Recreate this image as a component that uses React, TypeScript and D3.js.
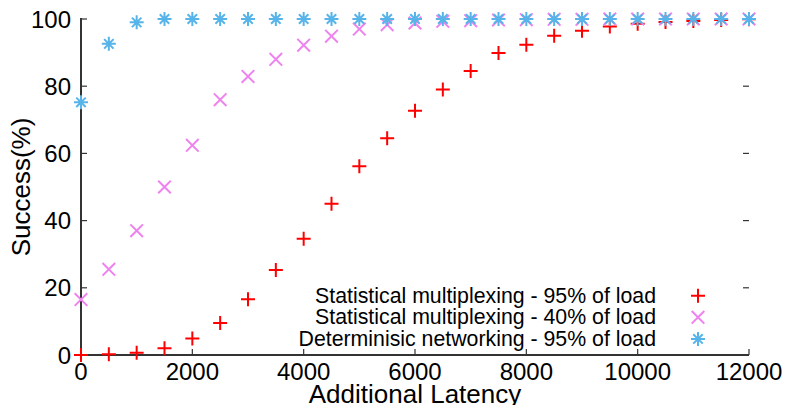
import React from "react";
import * as d3 from "d3";

const latency = [0, 500, 1000, 1500, 2000, 2500, 3000, 3500, 4000, 4500, 5000, 5500, 6000, 6500, 7000, 7500, 8000, 8500, 9000, 9500, 10000, 10500, 11000, 11500, 12000];
const stat95 = [0, 0.2, 0.65, 2, 4.9, 9.5, 16.6, 25.3, 34.6, 45, 56.2, 64.5, 72.7, 79, 84.5, 89.9, 92.3, 95, 96.5, 97.8, 98.6, 99.1, 99.4, 99.7, 99.9];
const stat40 = [16.5, 25.5, 37, 50, 62.4, 76, 82.9, 88, 92.2, 94.9, 97, 98.3, 98.8, 99.3, 99.5, 99.7, 99.8, 99.9, 99.9, 100, 100, 100, 100, 100, 100];
const det95 = [75.2, 92.6, 99, 100, 100, 100, 100, 100, 100, 100, 100, 100, 100, 100, 100, 100, 100, 100, 100, 100, 100, 100, 100, 100, 100];
const xTicks = [0, 2000, 4000, 6000, 8000, 10000, 12000];
const yTicks = [0, 20, 40, 60, 80, 100];
const seriesNames = [
  "Statistical multiplexing - 95% of load",
  "Statistical multiplexing - 40% of load",
  "Determinisic networking - 95% of load",
];

const W = 792, H = 405;
const M = { left: 81, right: 749, top: 19, bottom: 355 };
const font = "'Liberation Sans', Arial, sans-serif";
const colors = ["#ff0000", "#ee82ee", "#56b4e9"];
const axisColor = "#333";

function Marker({ kind, x, y, color }: { kind: number; x: number; y: number; color: string }) {
  const r = 7;
  if (kind === 0) {
    return <path d={`M${x - r},${y}H${x + r}M${x},${y - r}V${y + r}`} stroke={color} strokeWidth={2} fill="none" />;
  }
  if (kind === 1) {
    const s = r * 0.9;
    return <path d={`M${x - s},${y - s}L${x + s},${y + s}M${x - s},${y + s}L${x + s},${y - s}`} stroke={color} strokeWidth={2} fill="none" />;
  }
  const s = r * 0.9;
  return (
    <path
      d={`M${x - r},${y}H${x + r}M${x},${y - r}V${y + r}M${x - s * 0.75},${y - s * 0.75}L${x + s * 0.75},${y + s * 0.75}M${x - s * 0.75},${y + s * 0.75}L${x + s * 0.75},${y - s * 0.75}`}
      stroke={color}
      strokeWidth={2}
      fill="none"
    />
  );
}

export default function App() {
  const x = d3.scaleLinear().domain([0, 12000]).range([M.left, M.right]);
  const y = d3.scaleLinear().domain([0, 100]).range([M.bottom, M.top]);
  const series = [stat95, stat40, det95];
  const tl = 6;
  return (
    <svg width={W} height={H} style={{ position: "absolute", left: 0, top: 0, background: "#fff" }} fontFamily={font}>
      {yTicks.map((t) => (
        <g key={"y" + t}>
          <line x1={M.left} x2={M.left + tl} y1={y(t)} y2={y(t)} stroke={axisColor} strokeWidth={1.2} />
          <line x1={M.right} x2={M.right - tl} y1={y(t)} y2={y(t)} stroke={axisColor} strokeWidth={1.2} />
          <text x={M.left - 10} y={y(t) + 8.5} textAnchor="end" fontSize={24} fill="#000">{t}</text>
        </g>
      ))}
      {xTicks.map((t) => (
        <g key={"x" + t}>
          <line x1={x(t)} x2={x(t)} y1={M.bottom} y2={M.bottom - tl} stroke={axisColor} strokeWidth={1.2} />
          <text x={x(t)} y={380} textAnchor="middle" fontSize={24} fill="#000">{t}</text>
        </g>
      ))}
      <line x1={M.left} x2={M.left} y1={M.top - 1} y2={M.bottom} stroke={axisColor} strokeWidth={2} />
      <line x1={M.left} x2={M.right} y1={M.bottom} y2={M.bottom} stroke={axisColor} strokeWidth={2} />
      <text x={(M.left + M.right) / 2} y={403} textAnchor="middle" fontSize={26} fill="#000">Additional Latency</text>
      <text transform={`translate(30,${(M.top + M.bottom) / 2}) rotate(-90)`} textAnchor="middle" fontSize={26} fill="#000">Success(%)</text>
      {seriesNames.map((n, i) => (
        <g key={n}>
          <text x={656} y={302.5 + i * 21.6} textAnchor="end" fontSize={21.3} fill="#000">{n}</text>
          <Marker kind={i} x={698} y={295.7 + i * 21.6} color={colors[i]} />
        </g>
      ))}
      {series.map((s, si) => (
        <g key={si}>
          {s.map((v, i) => (
            <Marker key={i} kind={si} x={x(latency[i])} y={y(v)} color={colors[si]} />
          ))}
        </g>
      ))}
    </svg>
  );
}
